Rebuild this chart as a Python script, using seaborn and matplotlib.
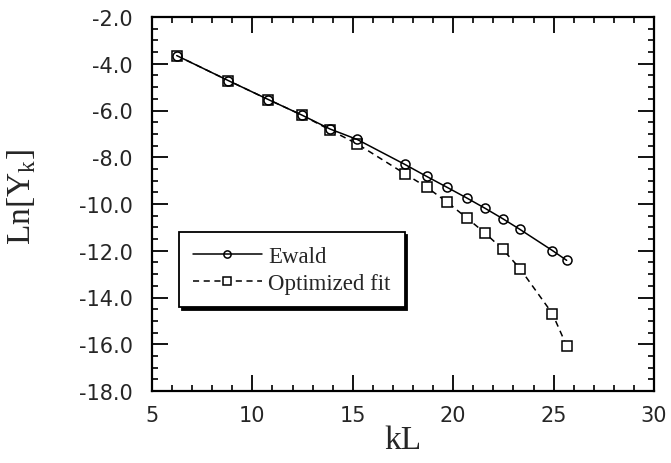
import matplotlib
matplotlib.use("Agg")
import matplotlib.pyplot as plt
from matplotlib.ticker import MultipleLocator
import seaborn as sns
import pandas as pd

# ---- data ----
kl = [6.23, 8.80, 10.79, 12.45, 13.86, 15.22, 17.60, 18.68, 19.68, 20.67,
      21.58, 22.47, 23.33, 24.94, 25.65]
ewald = [-3.65, -4.72, -5.53, -6.19, -6.79, -7.24, -8.31, -8.82, -9.28, -9.74,
         -10.18, -10.63, -11.09, -11.99, -12.41]
optimized = [-3.65, -4.72, -5.53, -6.19, -6.83, -7.43, -8.71, -9.28, -9.91, -10.59,
             -11.24, -11.94, -12.77, -14.69, -16.07]
series_names = ["Ewald", "Optimized fit"]
xticks = [5, 10, 15, 20, 25, 30]
yticks = [-2.0, -4.0, -6.0, -8.0, -10.0, -12.0, -14.0, -16.0, -18.0]

sns.set_style("ticks")
plt.rcParams["font.family"] = ["DejaVu Sans"]

fig = plt.figure(figsize=(6.71, 4.64), dpi=100)
ax = fig.add_axes([152 / 671, 1 - 392 / 464, 502 / 671, 374 / 464])

df_e = pd.DataFrame({"kL": kl, "val": ewald})
df_o = pd.DataFrame({"kL": kl, "val": optimized})

sns.lineplot(data=df_o, x="kL", y="val", ax=ax, color="black", lw=1.1,
             linestyle=(0, (4, 3)), marker="s", markersize=6.5,
             markerfacecolor="white", markeredgecolor="black", markeredgewidth=1.1,
             label=series_names[1], sort=False, zorder=3)
sns.lineplot(data=df_e, x="kL", y="val", ax=ax, color="black", lw=1.1,
             linestyle="-", marker="o", markersize=6.5, markerfacecolor="none",
             markeredgecolor="black", markeredgewidth=1.1,
             label=series_names[0], sort=False, zorder=4)

ax.set_xlim(5, 30)
ax.set_ylim(-18, -2)
ax.set_xticks(xticks)
ax.set_xticklabels([str(v) for v in xticks])
ax.set_yticks(yticks)
ax.set_yticklabels([f"{v:.1f}" for v in yticks])
ax.xaxis.set_minor_locator(MultipleLocator(1))
ax.yaxis.set_minor_locator(MultipleLocator(0.5))

ax.tick_params(which="both", direction="in", top=True, right=True, color="black")
ax.tick_params(which="major", length=11.5, width=1.3, labelsize=15, pad=10)
ax.tick_params(which="minor", length=4.5, width=1.2)
ax.tick_params(axis="y", which="major", pad=14)

for s in ax.spines.values():
    s.set_visible(True)
    s.set_linewidth(1.6)
    s.set_color("black")

serif = ["Liberation Serif", "DejaVu Serif"]
ax.set_xlabel("kL", fontsize=24, family=serif, labelpad=0)
ax.set_ylabel(r"Ln[Y$_{\mathregular{k}}$]", fontsize=24, family=serif)
ax.yaxis.set_label_coords(-0.228, 0.52)

handles, labels = ax.get_legend_handles_labels()
order = [labels.index(n) for n in series_names]
leg = ax.legend([handles[i] for i in order], [labels[i] for i in order],
                loc="upper left", bbox_to_anchor=(0.054, 0.425), borderaxespad=0,
                frameon=True, fancybox=False, shadow={"color": "black", "alpha": 1},
                edgecolor="black", framealpha=1, handlelength=3.0,
                handletextpad=0.3, borderpad=0.6, labelspacing=0.25,
                prop={"family": serif, "size": 16.5}, markerscale=0.8)
leg.get_frame().set_linewidth(1.3)

fig.savefig("out.png", dpi=100)
